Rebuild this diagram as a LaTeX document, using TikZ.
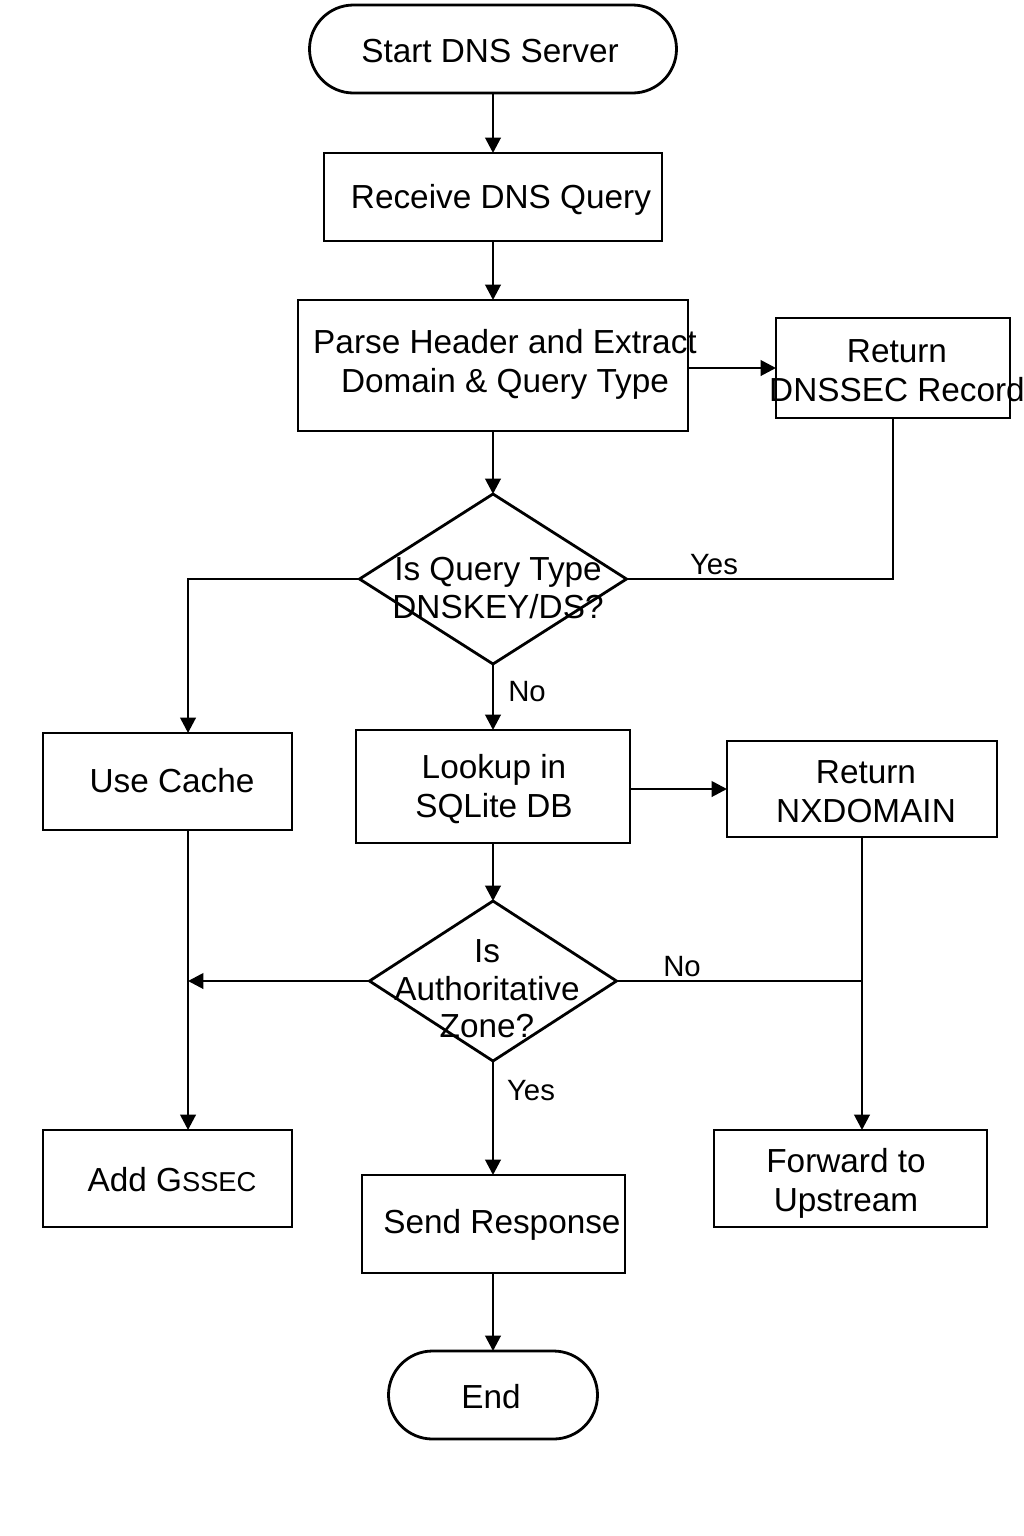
\documentclass[tikz,border=0pt]{standalone}
\usepackage{fontspec}
\setmainfont{Liberation Sans}
\usetikzlibrary{shapes.geometric,arrows.meta,calc}
\begin{document}
\begin{tikzpicture}[x=0.75pt,y=-0.75pt,
  every node/.style={inner sep=0pt,outer sep=0pt},
  base/.style={draw=black,line width=2.1pt},
  box/.style={base,rectangle},
  term/.style={base,rectangle,rounded corners=33pt},
  dec/.style={base,diamond},
  txt/.style={font=\fontsize{25}{29.25}\selectfont,align=center,text=black},
  dtxt/.style={font=\fontsize{25}{28}\selectfont,align=center,text=black},
  lbl/.style={font=\fontsize{22}{26}\selectfont,text=black},
  conn/.style={line width=2.1pt,draw=black},
  arr/.style={conn,-{Triangle[length=11.5pt,width=11.5pt]}}]
\fill[white] (0,0) rectangle (1024,1536);
\useasboundingbox (0,0) rectangle (1024,1536);

% shapes
\node[term,minimum width=275.25pt,minimum height=66pt] (start) at (493,49) {};
\node[box,minimum width=253.5pt,minimum height=66pt] (recv) at (493,197) {};
\node[box,minimum width=292.5pt,minimum height=98.25pt] (parse) at (493,365.5) {};
\node[box,minimum width=175.5pt,minimum height=75pt] (dnssec) at (893,368) {};
\node[dec,minimum width=200.25pt,minimum height=127.5pt] (d1) at (493,579) {};
\node[box,minimum width=186.75pt,minimum height=72.75pt] (cache) at (167.5,781.5) {};
\node[box,minimum width=205.5pt,minimum height=84.75pt] (lookup) at (493,786.5) {};
\node[box,minimum width=202.5pt,minimum height=72pt] (nx) at (862,789) {};
\node[dec,minimum width=185.25pt,minimum height=120pt] (d2) at (493,981) {};
\node[box,minimum width=186.75pt,minimum height=72.75pt] (add) at (167.5,1178.5) {};
\node[box,minimum width=197.25pt,minimum height=73.5pt] (send) at (493.5,1224) {};
\node[box,minimum width=204.75pt,minimum height=72.75pt] (fwd) at (850.5,1178.5) {};
\node[term,minimum width=156.75pt,minimum height=66pt] (end) at (493,1395) {};

% texts
\node[txt] (tstart) at (490,51) {Start DNS Server};
\node[txt] (trecv) at (501,200) {Receive DNS Query};
\node[txt] (tparse) at (505,364) {Parse Header and Extract\\Domain \& Query Type};
\node[txt] (tdnssec) at (897,371) {Return\\DNSSEC Record};
\node[dtxt] (td1) at (498,588) {Is Query Type\\DNSKEY/DS?};
\node[txt] (tcache) at (172,781) {Use Cache};
\node[txt] (tlookup) at (494,789) {Lookup in\\SQLite DB};
\node[txt] (tnx) at (866,792) {Return\\NXDOMAIN};
\node[dtxt] (td2) at (487,989) {Is\\Authoritative\\Zone?};
\node[txt] (tadd) at (172,1180) {Add G{\fontsize{20.5}{24}\selectfont SSEC}};
\node[txt] (tsend) at (502,1225) {Send Response};
\node[txt] (tfwd) at (846,1183) {Forward to\\Upstream};
\node[txt] (tend) at (491,1397) {End};

% junction points
\coordinate (j1) at (188,981);

% connectors
\draw[arr] (start.south) -- (recv.north -| start.south);
\draw[arr] (recv.south -| parse.south) -- (parse.north);
\draw[arr] (parse.east |- dnssec.west) -- (dnssec.west);
\draw[arr] (parse.south) -- (d1.north);
\draw[conn] (d1.east) -| (dnssec.south);
\draw[arr] (d1.west) -| ([xshift=15.4pt]cache.north);
\draw[arr] (d1.south) -- (lookup.north);
\draw[arr] (lookup.east |- nx.west) -- (nx.west);
\draw[arr] (lookup.south) -- (d2.north);
\draw[arr] (d2.west) -- (j1);
\draw[arr] ([xshift=15.4pt]cache.south) -- ([xshift=15.4pt]add.north);
\draw[conn] (d2.east) -- (d2.east -| nx.south);
\draw[arr] (nx.south) -- (nx.south |- fwd.north);
\draw[arr] (d2.south) -- (send.north -| d2.south);
\draw[arr] (send.south -| d2.south) -- (end.north -| d2.south);

% labels
\node[lbl] (lyes1) at (714,565) {Yes};
\node[lbl] (lno1) at (527,692) {No};
\node[lbl] (lno2) at (682,967) {No};
\node[lbl] (lyes2) at (531,1091) {Yes};
\end{tikzpicture}
\end{document}
